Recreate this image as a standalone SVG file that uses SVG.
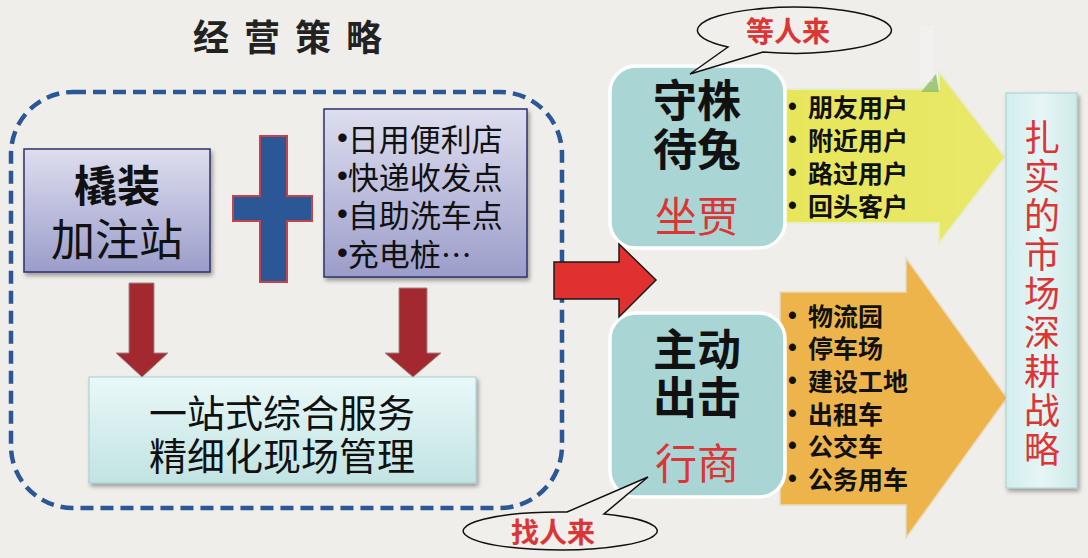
<svg xmlns="http://www.w3.org/2000/svg" width="1088" height="558" viewBox="0 0 1088 558">
<defs>
<linearGradient id="gPurple" x1="0" y1="0" x2="0" y2="1"><stop offset="0" stop-color="#dedeef"/><stop offset="1" stop-color="#9b9dca"/></linearGradient>
<linearGradient id="gCyan" x1="0" y1="0" x2="0" y2="1"><stop offset="0" stop-color="#e9f8f8"/><stop offset="1" stop-color="#c2e3e3"/></linearGradient>
<linearGradient id="gRight" x1="0" y1="0" x2="1" y2="0"><stop offset="0" stop-color="#d3eded"/><stop offset="0.5" stop-color="#e6f5f5"/><stop offset="1" stop-color="#cfeaea"/></linearGradient>
<linearGradient id="gYellow" x1="0" y1="0" x2="1" y2="0"><stop offset="0" stop-color="#e7e65a"/><stop offset="1" stop-color="#e9e86a"/></linearGradient>
<filter id="sh" x="-10%" y="-10%" width="130%" height="130%"><feDropShadow dx="2" dy="3" stdDeviation="2" flood-color="#000" flood-opacity="0.35"/></filter>
<style>
text{font-family:"Noto Sans CJK SC","Noto Sans CJK TC",sans-serif;}
.blk{fill:#111;}
.red{fill:#dc3535;}
.c{text-anchor:middle;dominant-baseline:central;}
.l{dominant-baseline:central;}
.b{font-weight:bold;}
.dot{font-family:"Liberation Sans",sans-serif;}
.purple{fill:url(#gPurple);stroke:#2d306b;stroke-width:1.5;}
.teal{fill:#a9d5d4;stroke:#ffffff;stroke-width:3.5;}
.down{fill:#a4282f;stroke:#9c8b8b;stroke-width:1;}
.bub{fill:#f0efeb;stroke:#111;stroke-width:1.5;}
</style>
</defs>
<rect width="1088" height="558" fill="#efeeea"/>

<g id="title"><text x="193" y="35" class="l b" font-size="36" letter-spacing="15" fill="#222">经营策略</text></g>

<g id="frame"><rect x="11" y="92" width="551" height="416" rx="62" ry="62" fill="none" stroke="#2b5797" stroke-width="4.5" stroke-dasharray="13 7"/></g>

<g id="node-station">
<rect x="24" y="149" width="186" height="123" class="purple" filter="url(#sh)"/>
<text x="117" y="183" class="c b blk" font-size="43">橇装</text>
<text x="117" y="237" class="c blk" font-size="44">加注站</text>
</g>

<g id="plus"><path d="M260 136 H287 V196 H312 V221 H287 V282 H260 V221 H233 V196 H260 Z" fill="#2b5797" stroke="#c4434b" stroke-width="2"/></g>

<g id="node-services">
<rect x="324" y="109" width="203" height="168" class="purple" filter="url(#sh)"/>
<text x="337" y="137" class="l blk" font-size="31"><tspan class="dot">•</tspan>日用便利店</text>
<text x="337" y="175" class="l blk" font-size="31"><tspan class="dot">•</tspan>快递收发点</text>
<text x="337" y="213" class="l blk" font-size="31"><tspan class="dot">•</tspan>自助洗车点</text>
<text x="337" y="252" class="l blk" font-size="31"><tspan class="dot">•</tspan>充电桩…</text>
</g>

<g id="node-onestop">
<rect x="89" y="377" width="387" height="106" fill="url(#gCyan)" stroke="#a3cfcf" stroke-width="1" filter="url(#sh)"/>
<text x="282" y="410" class="c blk" font-size="38">一站式综合服务</text>
<text x="282" y="453" class="c blk" font-size="38">精细化现场管理</text>
</g>

<g id="arrows-yo">
<polygon points="780,89 939,89 939,72 1005,157 939,243 939,223 780,223" fill="url(#gYellow)" stroke="#e4efcf" stroke-width="2"/>
<polygon points="921,92 936,74 939,92" fill="#8dbf62" opacity="0.8"/>
<rect x="920" y="26" width="13" height="56" fill="#f8fafb" opacity="0.3"/>
<polygon points="780,292 906,292 906,258 1007,398 906,538 906,505 780,505" fill="#edb44b" stroke="#e9dcc0" stroke-width="1.5"/>
</g>

<g id="node-shouzhu">
<rect x="610" y="66" width="175" height="182" rx="26" ry="26" class="teal"/>
<text x="697" y="98" class="c b blk" font-size="44">守株</text>
<text x="697" y="147" class="c b blk" font-size="44">待兔</text>
<text x="697" y="213" class="c red" font-size="42">坐贾</text>
</g>

<g id="node-zhudong">
<rect x="610" y="313" width="175" height="184" rx="26" ry="26" class="teal"/>
<text x="697" y="347" class="c b blk" font-size="44">主动</text>
<text x="697" y="395" class="c b blk" font-size="44">出击</text>
<text x="697" y="460" class="c red" font-size="42">行商</text>
</g>

<g id="list-yellow">
<text x="788" y="106" class="l b blk dot" font-size="25">•</text><text x="808" y="106" class="l b blk" font-size="25">朋友用户</text>
<text x="788" y="139" class="l b blk dot" font-size="25">•</text><text x="808" y="139" class="l b blk" font-size="25">附近用户</text>
<text x="788" y="172" class="l b blk dot" font-size="25">•</text><text x="808" y="172" class="l b blk" font-size="25">路过用户</text>
<text x="788" y="205" class="l b blk dot" font-size="25">•</text><text x="808" y="205" class="l b blk" font-size="25">回头客户</text>
</g>

<g id="list-orange">
<text x="788" y="315" class="l b blk dot" font-size="25">•</text><text x="808" y="315" class="l b blk" font-size="25">物流园</text>
<text x="788" y="347" class="l b blk dot" font-size="25">•</text><text x="808" y="347" class="l b blk" font-size="25">停车场</text>
<text x="788" y="380" class="l b blk dot" font-size="25">•</text><text x="808" y="380" class="l b blk" font-size="25">建设工地</text>
<text x="788" y="413" class="l b blk dot" font-size="25">•</text><text x="808" y="413" class="l b blk" font-size="25">出租车</text>
<text x="788" y="445" class="l b blk dot" font-size="25">•</text><text x="808" y="445" class="l b blk" font-size="25">公交车</text>
<text x="788" y="478" class="l b blk dot" font-size="25">•</text><text x="808" y="478" class="l b blk" font-size="25">公务用车</text>
</g>

<g id="node-strategy">
<rect x="1006" y="93" width="71" height="395" fill="url(#gRight)" stroke="#a9d0d0" stroke-width="1" filter="url(#sh)"/>
<text class="c red" font-size="36">
<tspan x="1042" y="135">扎</tspan><tspan x="1042" y="174">实</tspan><tspan x="1042" y="213">的</tspan><tspan x="1042" y="252">市</tspan><tspan x="1042" y="291">场</tspan><tspan x="1042" y="330">深</tspan><tspan x="1042" y="369">耕</tspan><tspan x="1042" y="408">战</tspan><tspan x="1042" y="447">略</tspan>
</text>
</g>

<g id="bubble-wait">
<path d="M728 47 L690 74 L763 52 A97 23 0 1 0 728 47 Z" class="bub"/>
<text x="788" y="30" class="c b red" font-size="28">等人来</text>
</g>

<g id="bubble-seek">
<path d="M567 512 L648 477 L604 514 A97 19 0 1 1 567 512 Z" class="bub"/>
<text x="553" y="531" class="c b red" font-size="28">找人来</text>
</g>

<g id="connectors">
<polygon points="129,283 154,283 154,353 168,353 142,377 116,353 129,353" class="down"/>
<polygon points="399,288 427,288 427,353 441,353 413,377 385,353 399,353" class="down"/>
<polygon points="554,262 619,262 619,244 656,280 619,317 619,299 554,299" fill="#e03030" stroke="#1a1a1a" stroke-width="1.5"/>
</g>
</svg>
